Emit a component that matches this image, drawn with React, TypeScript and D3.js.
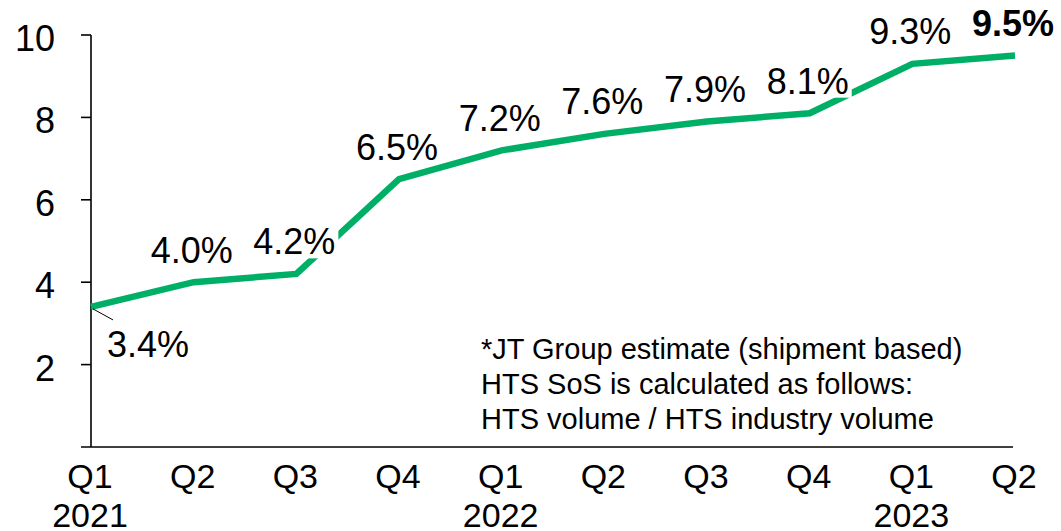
import React, { useEffect, useRef } from "react";
import * as d3 from "d3";

const quarters = ["Q1", "Q2", "Q3", "Q4", "Q1", "Q2", "Q3", "Q4", "Q1", "Q2"];
const years = ["2021", "", "", "", "2022", "", "", "", "2023", ""];
const values = [3.4, 4.0, 4.2, 6.5, 7.2, 7.6, 7.9, 8.1, 9.3, 9.5];
const labels = ["3.4%", "4.0%", "4.2%", "6.5%", "7.2%", "7.6%", "7.9%", "8.1%", "9.3%", "9.5%"];
const yTicks = [2, 4, 6, 8, 10];
const footnote = [
  "*JT Group estimate (shipment based)",
  "HTS SoS is calculated as follows:",
  "HTS volume / HTS industry volume",
];

const W = 1061;
const H = 531;
const FONT = "'Liberation Sans', Arial, sans-serif";
const GREEN = "#00AF66";

export default function App() {
  const ref = useRef<SVGSVGElement | null>(null);

  useEffect(() => {
    const svg = d3.select(ref.current);
    svg.selectAll("*").remove();

    const x = d3
      .scalePoint<number>()
      .domain(values.map((_, i) => i))
      .range([91, 1015]);
    const y = d3.scaleLinear().domain([0, 10]).range([447, 35]);

    const g = svg.append("g").attr("font-family", FONT);

    // axes
    g.append("line")
      .attr("x1", 91).attr("x2", 91)
      .attr("y1", y(10)).attr("y2", y(0))
      .attr("stroke", "#000").attr("stroke-width", 1.6);
    g.append("line")
      .attr("x1", 81).attr("x2", 1013)
      .attr("y1", y(0)).attr("y2", y(0))
      .attr("stroke", "#000").attr("stroke-width", 1.6);

    yTicks.forEach((t) => {
      g.append("line")
        .attr("x1", 81).attr("x2", 91)
        .attr("y1", y(t)).attr("y2", y(t))
        .attr("stroke", "#000").attr("stroke-width", 1.6);
      g.append("text")
        .attr("x", 55).attr("y", y(t) + 16)
        .attr("text-anchor", "end")
        .attr("font-size", 36)
        .attr("fill", "#000")
        .text(String(t));
    });

    quarters.forEach((q, i) => {
      g.append("text")
        .attr("x", (x(i) as number) - 1).attr("y", 488)
        .attr("text-anchor", "middle")
        .attr("font-size", 34)
        .text(q);
      if (years[i]) {
        g.append("text")
          .attr("x", (x(i) as number) - 1).attr("y", 527)
          .attr("text-anchor", "middle")
          .attr("font-size", 34)
          .text(years[i]);
      }
    });

    // line
    const line = d3
      .line<number>()
      .x((_, i) => x(i) as number)
      .y((d) => y(d));
    g.append("path")
      .datum(values)
      .attr("d", line)
      .attr("fill", "none")
      .attr("stroke", GREEN)
      .attr("stroke-width", 6.5)
      .attr("stroke-linejoin", "miter")
      .attr("stroke-linecap", "butt");

    // footnote
    footnote.forEach((t, i) => {
      g.append("text")
        .attr("x", 481).attr("y", 359 + i * 35)
        .attr("font-size", 29)
        .text(t);
    });

    // data labels
    values.forEach((v, i) => {
      const px = x(i) as number;
      const py = y(v);
      let tx: number, ty: number;
      if (i === 0) {
        tx = px + 57;
        ty = py + 50;
        g.append("line")
          .attr("x1", px + 2).attr("y1", py + 2)
          .attr("x2", px + 22).attr("y2", py + 13)
          .attr("stroke", "#000").attr("stroke-width", 1);
      } else {
        tx = px - 2;
        ty = py - 19.6;
      }
      const lg = g.append("g");
      const rect = lg.append("rect").attr("fill", "#fff");
      const text = lg.append("text")
        .attr("x", tx).attr("y", ty)
        .attr("text-anchor", "middle")
        .attr("font-size", 36)
        .attr("font-weight", i === values.length - 1 ? "bold" : "normal")
        .attr("fill", "#000")
        .text(labels[i]);
      const bb = (text.node() as SVGTextElement).getBBox();
      const top = ty - 0.716 * 36 - 6;
      const bottom = ty + 4;
      rect
        .attr("x", bb.x - 3).attr("y", top)
        .attr("width", bb.width + 6).attr("height", bottom - top);
    });
  }, []);

  return (
    <svg
      ref={ref}
      width={W}
      height={H}
      style={{ position: "absolute", left: 0, top: 0, background: "#fff" }}
    />
  );
}
